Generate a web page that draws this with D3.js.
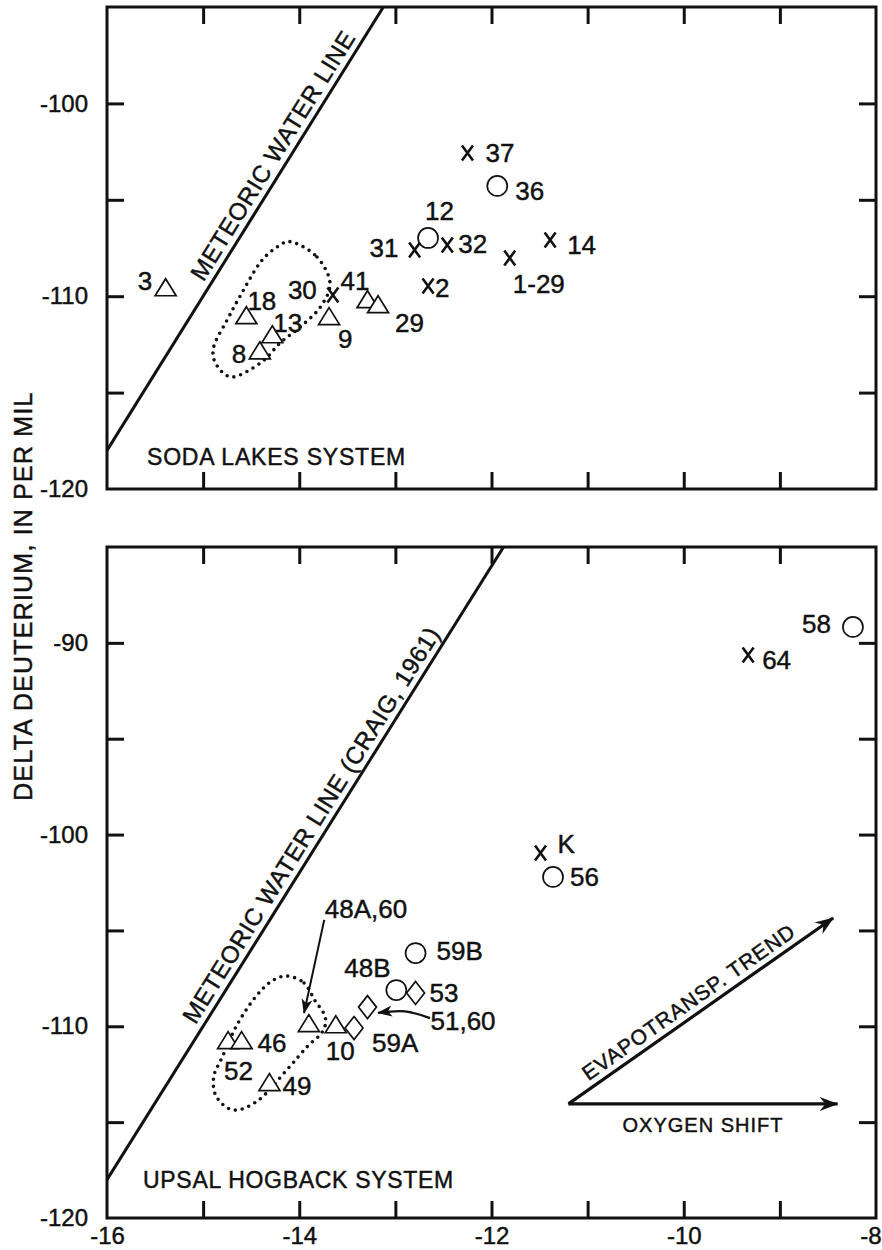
<!DOCTYPE html>
<html>
<head>
<meta charset="utf-8">
<script src="https://cdn.jsdelivr.net/npm/d3@7"></script>
<style>
  body { margin: 0; background: #fff; }
  text { font-family: "Liberation Sans", Arial, Helvetica, sans-serif; fill: #111; stroke: #111; stroke-width: 0.45px; }
</style>
</head>
<body>
<script>
// ---- data (delta 18O, delta D in per mil) ----
var xTickVals  = [-15, -14, -13, -12, -11, -10, -9];
var xLabelVals = [-16, -14, -12, -10, -8];

var sodaYTicks  = [-115, -110, -105, -100];
var sodaYLabels = [-120, -110, -100];
var upsalYTicks  = [-115, -110, -105, -100, -95, -90];
var upsalYLabels = [-120, -110, -100, -90];

// [label, d18O, dD]
var sodaTriangles = [["3", -15.39, -109.68], ["18", -14.55, -111.13], ["13", -14.28, -112.12],
  ["8", -14.41, -112.95], ["9", -13.69, -111.18], ["41", -13.29, -110.3], ["29", -13.18, -110.56]];
var sodaCrosses = [["30", -13.65, -109.94], ["31", -12.8, -107.6], ["32", -12.46, -107.34],
  ["2", -12.66, -109.47], ["1-29", -11.81, -108.02], ["14", -11.39, -107.09], ["37", -12.25, -102.57]];
var sodaCircles = [["12", -12.66, -106.98], ["36", -11.94, -104.28]];

var upsalTriangles = [["52", -14.74, -110.87], ["46", -14.6, -110.87], ["49", -14.31, -113.06],
  ["48A,60", -13.9, -109.98], ["10", -13.62, -110.04]];
var upsalDiamonds = [["59A", -13.43, -110.09], ["51,60", -13.29, -109.0], ["53", -12.79, -108.26]];
var upsalCircles = [["48B", -12.99, -108.11], ["59B", -12.79, -106.18], ["56", -11.36, -102.21], ["58", -8.24, -89.17]];
var upsalCrosses = [["K", -11.49, -100.96], ["64", -9.33, -90.63]];

// dotted outlines (d18O, dD)
var sodaLoop = [[-14.075, -107.19], [-13.815, -107.97], [-13.68, -109.32], [-13.78, -110.56],
  [-13.99, -111.6], [-14.2, -112.43], [-14.39, -113.41], [-14.69, -114.19], [-14.86, -113.57],
  [-14.89, -112.63], [-14.75, -111.23], [-14.62, -110.04], [-14.41, -108.28], [-14.23, -107.45]];
var upsalLoop = [[-14.13, -107.38], [-13.95, -107.74], [-13.84, -108.63], [-13.73, -109.51],
  [-13.76, -110.3], [-13.92, -111.08], [-14.13, -112.28], [-14.42, -113.84], [-14.68, -114.37],
  [-14.86, -113.69], [-14.89, -112.64], [-14.8, -111.6], [-14.66, -110.04], [-14.48, -108.63],
  [-14.3, -107.69]];

// meteoric water line (Craig, 1961): dD = 8 d18O + 10
var mwlSlope = 8, mwlIntercept = 10;

// arrows
var arrow48A = [[-13.74, -104.45], [-13.95, -109.31]];
var arrow5160 = [[-12.64, -109.57], [-12.9, -109.22], [-13.18, -109.3]];
var evapoArrow = [[-11.2, -114.05], [-8.445, -104.35]];
var oxygenArrow = [[-11.2, -114.05], [-8.4, -114.05]];

// label offsets in pixels from the marker
var labelOffset = {
  "3": [-28, 0], "18": [1, -8], "13": [1, -5], "8": [-28, 10], "9": [9, 29], "41": [-27, -12],
  "29": [17, 25], "30": [-45, 4], "31": [-45, 7], "12": [-3, -18], "32": [11, 8], "2": [7, 11],
  "1-29": [3, 35], "14": [17, 14], "37": [18, 9], "36": [18, 14],
  "52": [-4, 37], "46": [16, 9], "49": [13, 10], "48A,60": [16, -108], "10": [-10, 33],
  "59A": [18, 24], "51,60": [63, 23], "48B": [-52, -13], "53": [14, 9], "59B": [21, 7],
  "K": [17, 0], "56": [17, 9], "64": [14, 14], "58": [-51, 6]
};

// ---- drawing ----
var svg = d3.select("body").append("svg")
  .attr("width", 882)
  .attr("height", 1250);

var defs = svg.append("defs");
defs.append("marker")
  .attr("id", "head")
  .attr("markerUnits", "userSpaceOnUse")
  .attr("viewBox", "-20 -10 22 20")
  .attr("refX", 0).attr("refY", 0)
  .attr("markerWidth", 22).attr("markerHeight", 20)
  .attr("orient", "auto")
  .append("path")
  .attr("d", "M1,0L-18,-7L-12,0L-18,7Z")
  .attr("fill", "#111");
defs.append("marker")
  .attr("id", "smallhead")
  .attr("markerUnits", "userSpaceOnUse")
  .attr("viewBox", "-16 -8 18 16")
  .attr("refX", 0).attr("refY", 0)
  .attr("markerWidth", 18).attr("markerHeight", 16)
  .attr("orient", "auto")
  .append("path")
  .attr("d", "M1,0L-14,-5.5L-10,0L-14,5.5Z")
  .attr("fill", "#111");

var left = 107, right = 876;
var x = d3.scaleLinear().domain([-16, -8]).range([left, right]);

var triPath = "M0,-11.3L10.5,5.7L-10.5,5.7Z";
var diaPath = "M0,-11.5L9,0L0,11.5L-9,0Z";
var xPath = "M-5.5,-7.5L5.5,7.5M5.5,-7.5L-5.5,7.5";

function drawPanel(name, top, bottom, yDomain, yTicks, yLabels, showX) {
  var y = d3.scaleLinear().domain(yDomain).range([bottom, top]);
  var g = svg.append("g").attr("class", name);

  g.append("clipPath").attr("id", "clip-" + name)
    .append("rect").attr("x", left).attr("y", top)
    .attr("width", right - left).attr("height", bottom - top);

  // ticks, all pointing inward
  var tk = 17;
  g.append("g").attr("transform", "translate(" + left + ",0)")
    .call(d3.axisLeft(y).tickValues(yTicks).tickSize(-tk).tickFormat(""));
  g.append("g").attr("transform", "translate(" + right + ",0)")
    .call(d3.axisRight(y).tickValues(yTicks).tickSize(-tk).tickFormat(""));
  g.append("g").attr("transform", "translate(0," + top + ")")
    .call(d3.axisTop(x).tickValues(xTickVals).tickSize(-tk).tickFormat(""));
  g.append("g").attr("transform", "translate(0," + bottom + ")")
    .call(d3.axisBottom(x).tickValues(xTickVals).tickSize(-tk).tickFormat(""));
  g.selectAll(".domain").remove();
  g.selectAll(".tick line").attr("stroke", "#111").attr("stroke-width", 3);

  // tick labels (plain hyphen minus, as in the original)
  var yl = g.append("g").attr("transform", "translate(" + left + ",0)")
    .call(d3.axisLeft(y).tickValues(yLabels).tickSize(0).tickPadding(19).tickFormat(function(d){ return String(d); }));
  yl.select(".domain").remove();
  yl.selectAll("text").attr("font-size", 24).attr("fill", "#111")
    .attr("font-family", "Liberation Sans, Arial, sans-serif");
  if (showX) {
    var xl = g.append("g").attr("transform", "translate(0," + bottom + ")")
      .call(d3.axisBottom(x).tickValues(xLabelVals).tickSize(0).tickPadding(9).tickFormat(function(d){ return String(d); }));
    xl.select(".domain").remove();
    xl.selectAll("text").attr("font-size", 24).attr("fill", "#111")
      .attr("font-family", "Liberation Sans, Arial, sans-serif");
    // keep the last label inside the page
    xl.selectAll("text").filter(function(d){ return d === -8; })
      .attr("text-anchor", "end").attr("dx", 5);
  }

  // frame
  g.append("rect")
    .attr("x", left).attr("y", top)
    .attr("width", right - left).attr("height", bottom - top)
    .attr("fill", "none").attr("stroke", "#111").attr("stroke-width", 3);

  // meteoric water line
  var x0 = -16, x1 = (yDomain[1] - mwlIntercept) / mwlSlope;
  g.append("path")
    .attr("clip-path", "url(#clip-" + name + ")")
    .attr("d", d3.line()([[x(x0), y(mwlSlope * x0 + mwlIntercept)], [x(x1), y(mwlSlope * x1 + mwlIntercept)]]))
    .attr("stroke", "#111").attr("stroke-width", 3).attr("fill", "none");

  return { g: g, y: y };
}

function mwlLabel(p, at, txt, spacing) {
  var px = x(at), py = p.y(mwlSlope * at + mwlIntercept);
  var ang = Math.atan2(p.y(mwlSlope * (at + 1) + mwlIntercept) - py, x(at + 1) - px) * 180 / Math.PI;
  p.g.append("text")
    .attr("transform", "translate(" + px + "," + py + ") rotate(" + ang + ")")
    .attr("text-anchor", "middle")
    .attr("dy", -7)
    .attr("font-size", 24)
    .attr("letter-spacing", spacing)
    .text(txt);
}

function loop(p, pts) {
  p.g.append("path")
    .attr("d", d3.line().x(function(d){ return x(d[0]); }).y(function(d){ return p.y(d[1]); })
      .curve(d3.curveCardinalClosed)(pts))
    .attr("fill", "none")
    .attr("stroke", "#111")
    .attr("stroke-width", 3.6)
    .attr("stroke-linecap", "round")
    .attr("stroke-dasharray", "0,7");
}

function markers(p, data, shape, stroke) {
  var sel = p.g.append("g").selectAll("g").data(data).enter().append("g")
    .attr("transform", function(d){ return "translate(" + x(d[1]) + "," + p.y(d[2]) + ")"; });
  if (shape === "circle") {
    sel.append("circle").attr("r", 10);
  } else {
    sel.append("path").attr("d", shape);
  }
  sel.selectAll("circle,path")
    .attr("fill", shape === xPath ? "none" : "#fff")
    .attr("stroke", "#111")
    .attr("stroke-width", stroke);
  sel.append("text")
    .attr("x", function(d){ return labelOffset[d[0]][0]; })
    .attr("y", function(d){ return labelOffset[d[0]][1]; })
    .attr("font-size", 26)
    .text(function(d){ return d[0]; });
}

// top panel: Soda Lakes
var soda = drawPanel("soda", 7, 489, [-120, -95], sodaYTicks, sodaYLabels, false);
mwlLabel(soda, -14.14, "METEORIC WATER LINE", 0.6);
loop(soda, sodaLoop);
markers(soda, sodaTriangles, triPath, 1.7);
markers(soda, sodaCircles, "circle", 1.7);
markers(soda, sodaCrosses, xPath, 2.6);
soda.g.append("text").attr("x", 147).attr("y", 465)
  .attr("font-size", 23).attr("letter-spacing", 0.8).text("SODA LAKES SYSTEM");

// bottom panel: Upsal Hogback
var upsal = drawPanel("upsal", 547, 1218, [-120, -85], upsalYTicks, upsalYLabels, true);
mwlLabel(upsal, -13.74, "METEORIC WATER LINE (CRAIG, 1961)", 0.6);
loop(upsal, upsalLoop);

var ln = d3.line().x(function(d){ return x(d[0]); }).y(function(d){ return upsal.y(d[1]); });
upsal.g.append("path").attr("d", ln(arrow48A))
  .attr("fill", "none").attr("stroke", "#111").attr("stroke-width", 2)
  .attr("marker-end", "url(#smallhead)");
upsal.g.append("path").attr("d", ln.curve(d3.curveNatural)(arrow5160))
  .attr("fill", "none").attr("stroke", "#111").attr("stroke-width", 2.4)
  .attr("marker-end", "url(#smallhead)");
ln.curve(d3.curveLinear);

markers(upsal, upsalTriangles, triPath, 1.7);
markers(upsal, upsalDiamonds, diaPath, 1.7);
markers(upsal, upsalCircles, "circle", 1.7);
markers(upsal, upsalCrosses, xPath, 2.6);

// trend arrows
[evapoArrow, oxygenArrow].forEach(function(a){
  upsal.g.append("path").attr("d", ln(a))
    .attr("fill", "none").attr("stroke", "#111").attr("stroke-width", 3.2)
    .attr("marker-end", "url(#head)");
});
var ex0 = x(evapoArrow[0][0]), ey0 = upsal.y(evapoArrow[0][1]);
var ex1 = x(evapoArrow[1][0]), ey1 = upsal.y(evapoArrow[1][1]);
var eAng = Math.atan2(ey1 - ey0, ex1 - ex0) * 180 / Math.PI;
upsal.g.append("text")
  .attr("transform", "translate(" + (ex0 + 0.485 * (ex1 - ex0)) + "," + (ey0 + 0.485 * (ey1 - ey0)) + ") rotate(" + eAng + ")")
  .attr("text-anchor", "middle").attr("dy", -7)
  .attr("font-size", 21).attr("letter-spacing", 1)
  .text("EVAPOTRANSP. TREND");
upsal.g.append("text")
  .attr("x", (x(oxygenArrow[0][0]) + x(oxygenArrow[1][0])) / 2)
  .attr("y", upsal.y(oxygenArrow[0][1]) + 28)
  .attr("text-anchor", "middle")
  .attr("font-size", 20).attr("letter-spacing", 1)
  .text("OXYGEN SHIFT");
upsal.g.append("text").attr("x", 143).attr("y", 1188)
  .attr("font-size", 23).attr("letter-spacing", 0.7).text("UPSAL HOGBACK SYSTEM");

// shared y axis title
svg.append("text")
  .attr("transform", "translate(32,596) rotate(-90)")
  .attr("text-anchor", "middle")
  .attr("font-size", 25)
  .attr("letter-spacing", 1.2)
  .text("DELTA DEUTERIUM, IN PER MIL");
</script>
</body>
</html>
